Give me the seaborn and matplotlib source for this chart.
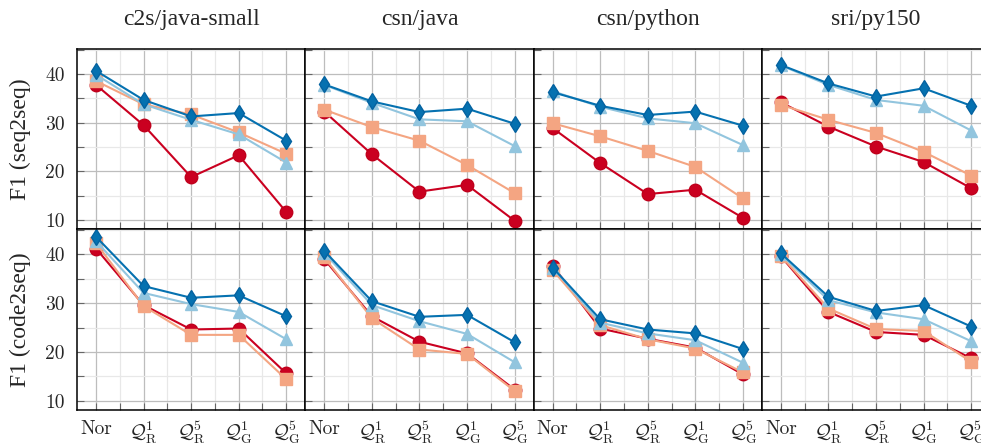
import numpy as np
import pandas as pd
import matplotlib
matplotlib.use('Agg')
import matplotlib.pyplot as plt
import seaborn as sns
from matplotlib.ticker import MultipleLocator

# ---------------- Data ----------------
datasets = ["c2s/java-small", "csn/java", "csn/python", "sri/py150"]
models = ["seq2seq", "code2seq"]
categories = ["Nor", r"$\mathcal{Q}_{\mathrm{R}}^{1}$", r"$\mathcal{Q}_{\mathrm{R}}^{5}$",
              r"$\mathcal{Q}_{\mathrm{G}}^{1}$", r"$\mathcal{Q}_{\mathrm{G}}^{5}$"]
series_names = ["S1", "S2", "S3", "S4"]

# seq2seq, one row per dataset
seq2seq_s1 = [[37.8, 29.5, 18.8, 23.3, 11.6],
              [32.3, 23.5, 15.8, 17.2, 9.8],
              [28.9, 21.7, 15.3, 16.2, 10.4],
              [34.2, 29.2, 25.1, 21.9, 16.5]]
seq2seq_s2 = [[38.6, 33.8, 31.7, 28.0, 23.6],
              [32.7, 29.1, 26.3, 21.3, 15.5],
              [29.9, 27.2, 24.2, 20.9, 14.4],
              [33.7, 30.6, 27.9, 24.0, 19.1]]
seq2seq_s3 = [[39.9, 33.8, 30.6, 27.6, 21.8],
              [37.8, 34.1, 30.7, 30.3, 25.2],
              [36.5, 33.3, 30.9, 29.9, 25.4],
              [41.8, 37.8, 34.7, 33.5, 28.4]]
seq2seq_s4 = [[40.7, 34.7, 31.3, 32.0, 26.3],
              [37.9, 34.4, 32.2, 32.9, 29.8],
              [36.3, 33.5, 31.6, 32.3, 29.4],
              [41.9, 38.1, 35.4, 37.1, 33.5]]

# code2seq, one row per dataset
code2seq_s1 = [[41.2, 29.6, 24.6, 24.8, 15.6],
               [39.0, 27.3, 22.1, 19.7, 12.3],
               [37.7, 24.8, 22.7, 20.9, 15.4],
               [39.6, 28.2, 24.1, 23.5, 18.7]]
code2seq_s2 = [[42.3, 29.4, 23.5, 23.5, 14.4],
               [39.4, 26.9, 20.5, 19.6, 12.0],
               [36.8, 25.5, 22.6, 20.7, 15.8],
               [39.7, 28.9, 24.7, 24.3, 18.0]]
code2seq_s3 = [[42.7, 32.1, 29.8, 28.2, 22.6],
               [40.3, 29.6, 26.3, 23.7, 17.9],
               [37.3, 26.0, 23.8, 22.4, 17.8],
               [40.0, 30.6, 28.1, 26.7, 22.2]]
code2seq_s4 = [[43.6, 33.5, 31.1, 31.6, 27.3],
               [40.7, 30.4, 27.2, 27.6, 22.0],
               [37.3, 26.7, 24.6, 23.8, 20.6],
               [40.2, 31.3, 28.4, 29.6, 25.2]]

# long table
rows = []
tables = {"seq2seq": [seq2seq_s1, seq2seq_s2, seq2seq_s3, seq2seq_s4],
          "code2seq": [code2seq_s1, code2seq_s2, code2seq_s3, code2seq_s4]}
for m in models:
    for s, vals in zip(series_names, tables[m]):
        for di, d in enumerate(datasets):
            for ci, v in enumerate(vals[di]):
                rows.append(dict(model=m, dataset=d, series=s, pos=ci, F1=v))
df = pd.DataFrame(rows)

# ---------------- Style ----------------
sns.set_theme(style="white")
plt.rcParams['font.family'] = ['Liberation Serif', 'DejaVu Serif']
plt.rcParams['mathtext.fontset'] = 'cm'
plt.rcParams['axes.formatter.use_mathtext'] = True

colors = {"S1": "#ca0020", "S2": "#f4a582", "S3": "#92c5de", "S4": "#0571b0"}
edge = {"S1": "#c0001c", "S2": "#f4a582", "S3": "#92c5de", "S4": "#0462a0"}
markers = {"S1": "o", "S2": "s", "S3": "^", "S4": "d"}
msize = {"S1": 9, "S2": 8, "S3": 8, "S4": 8.5}

fig = plt.figure(figsize=(9.81, 4.44), dpi=100)
W, H = 981, 444
ax_w = 228.3
rows_px = [(49, 229), (229, 410)]

for r, m in enumerate(models):
    top, bot = rows_px[r]
    for c, d in enumerate(datasets):
        left = 77 + c * ax_w
        ax = fig.add_axes([left / W, 1 - bot / H, ax_w / W, (bot - top) / H])
        sub = df[(df.model == m) & (df.dataset == d)]
        for s in series_names:
            sns.lineplot(data=sub[sub.series == s], x="pos", y="F1", ax=ax,
                         color=colors[s], marker=markers[s], markersize=msize[s],
                         markeredgecolor=edge[s], markeredgewidth=1.0,
                         linewidth=1.5, legend=False)
        ax.set_xlim(-0.4, 4.4)
        ax.set_ylim(8.1, 45.2)
        ax.xaxis.set_major_locator(MultipleLocator(1))
        ax.xaxis.set_minor_locator(MultipleLocator(0.5))
        ax.yaxis.set_major_locator(MultipleLocator(10))
        ax.yaxis.set_minor_locator(MultipleLocator(5))
        ax.grid(which='major', color='#bdbdbd', linewidth=0.9)
        ax.grid(which='minor', color='#e8e8e8', linewidth=0.9)
        ax.set_axisbelow(True)
        ax.tick_params(which='both', direction='in', left=True, bottom=True,
                       color='#666666', width=0.8, length=5)
        ax.tick_params(axis='y', pad=9, labelsize=14)
        ax.tick_params(axis='x', pad=7, labelsize=14)
        for sp in ax.spines.values():
            sp.set_color('black')
            sp.set_linewidth(1.1)
        ax.set_xlabel("")
        if r == 1:
            ax.set_xticks(range(len(categories)))
            ax.set_xticklabels(categories, fontfamily='cmr10')
        else:
            ax.set_xticklabels([])
        if c == 0:
            ax.set_yticks([10, 20, 30, 40])
            ax.set_yticklabels(["10", "20", "30", "40"], fontfamily='cmr10')
            ax.set_ylabel(f"F1 ({m})", fontsize=17)
            ax.yaxis.set_label_coords(-0.2, 0.5)
        else:
            ax.set_yticklabels([])
            ax.set_ylabel("")
        if r == 0:
            ax.set_title(d, fontsize=17, pad=17)

fig.savefig("out.png", dpi=100)
